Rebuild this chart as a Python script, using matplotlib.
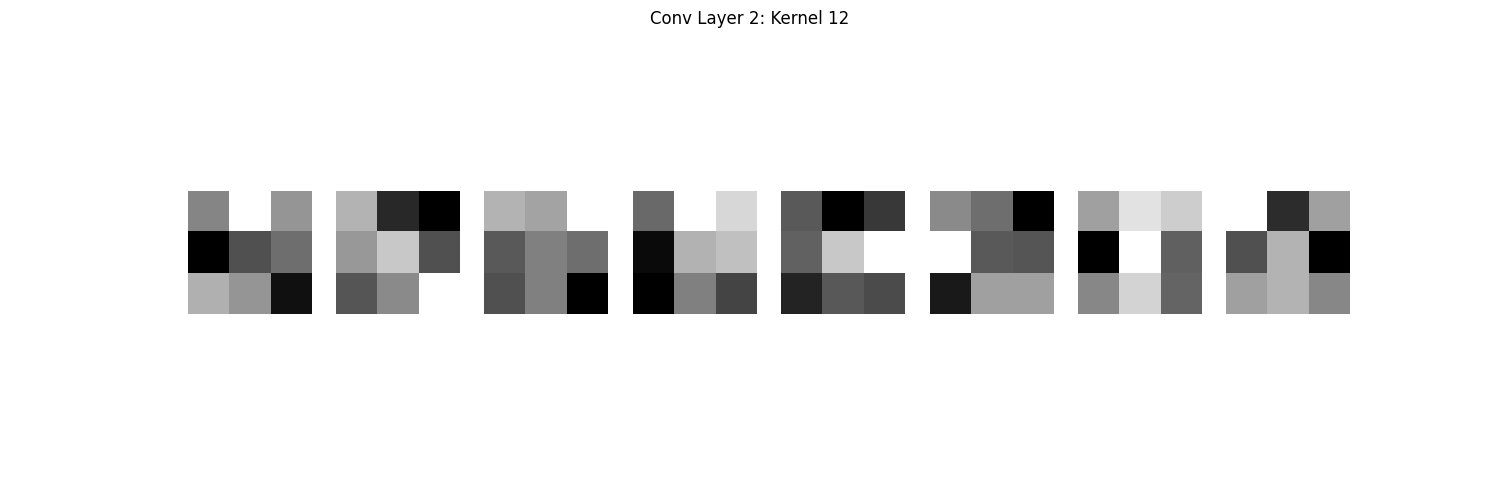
import matplotlib
matplotlib.use("Agg")
import matplotlib.pyplot as plt
import numpy as np

title = "Conv Layer 2: Kernel 12"
k1 = [[133, 255, 149], [0, 80, 110], [176, 149, 16]]
k2 = [[180, 40, 0], [152, 200, 80], [85, 138, 255]]
k3 = [[180, 163, 255], [90, 128, 110], [80, 128, 0]]
k4 = [[105, 255, 215], [10, 178, 192], [0, 128, 68]]
k5 = [[90, 0, 56], [98, 200, 255], [35, 88, 75]]
k6 = [[138, 110, 0], [255, 90, 85], [25, 160, 160]]
k7 = [[160, 226, 205], [0, 255, 96], [135, 212, 100]]
k8 = [[255, 45, 160], [80, 180, 0], [160, 180, 135]]
kernels = [k1, k2, k3, k4, k5, k6, k7, k8]

fig, axes = plt.subplots(1, 8, figsize=(15, 5), dpi=100)
for ax, k in zip(axes, kernels):
    ax.imshow(np.array(k, dtype=float), cmap="gray")
    ax.axis("off")
fig.suptitle(title)
fig.savefig("out.png")
